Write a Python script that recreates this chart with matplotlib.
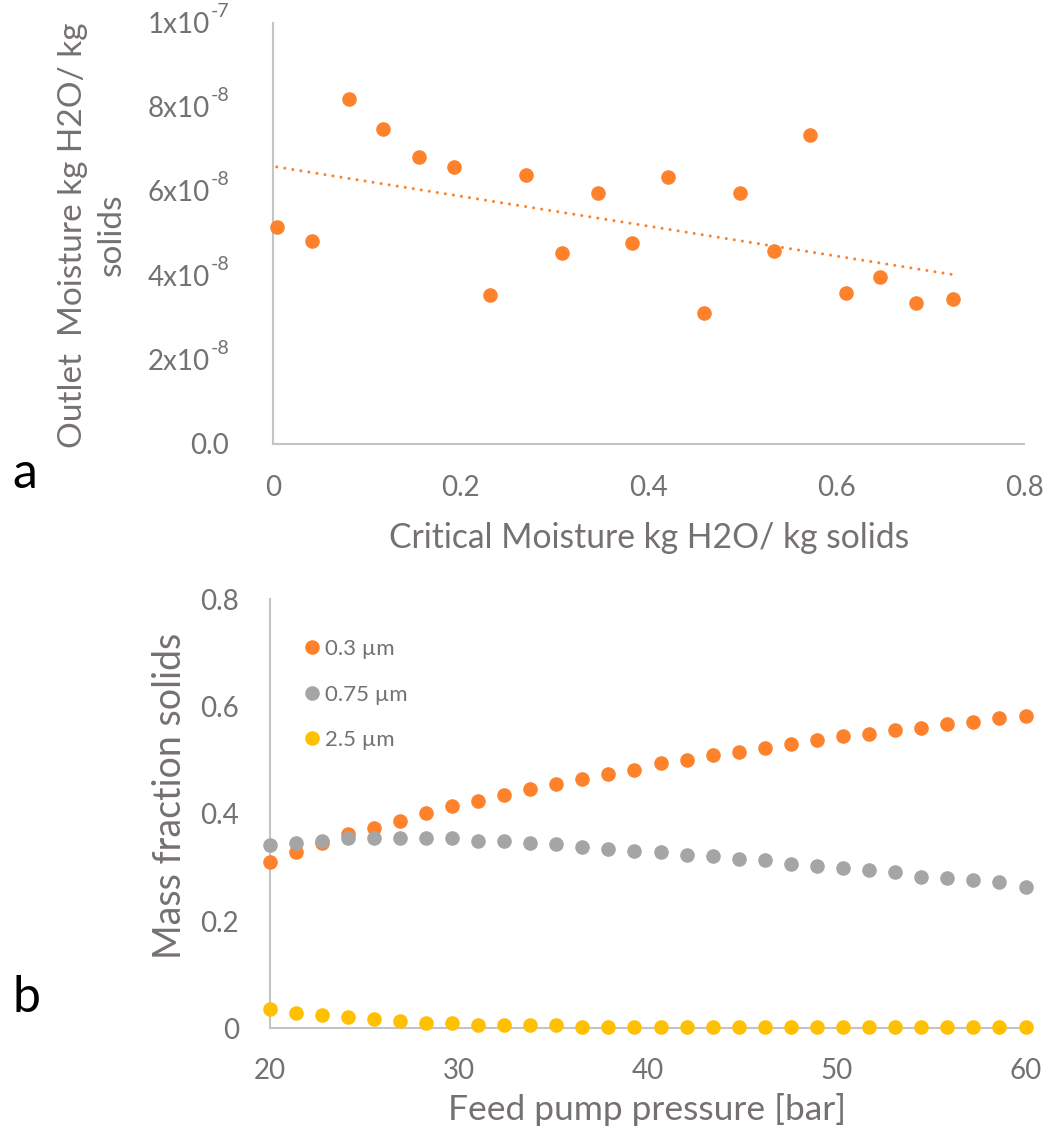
import matplotlib
matplotlib.use('Agg')
import matplotlib.pyplot as plt
import numpy as np

plt.rcParams['font.family'] = ['Lato', 'DejaVu Sans']
plt.rcParams['mathtext.fontset'] = 'custom'
plt.rcParams['mathtext.rm'] = 'Lato'

# ---------------- data (panel a) ----------------
critical_moisture = [0.004, 0.042, 0.081, 0.117, 0.155, 0.193, 0.231, 0.270, 0.308, 0.346,
                     0.382, 0.421, 0.459, 0.497, 0.534, 0.572, 0.610, 0.647, 0.685, 0.724]
outlet_moisture_e8 = [5.14, 4.82, 8.19, 7.48, 6.81, 6.57, 3.53, 6.38, 4.53, 5.96,
                      4.77, 6.34, 3.11, 5.96, 4.58, 7.33, 3.58, 3.96, 3.34, 3.44]
a_xticks = [0, 0.2, 0.4, 0.6, 0.8]
a_xticklabels = ['0', '0.2', '0.4', '0.6', '0.8']
a_yticks = [0, 2e-8, 4e-8, 6e-8, 8e-8, 1e-7]
a_ytick_base = ['0.0', '2x10', '4x10', '6x10', '8x10', '1x10']
a_ytick_exp = ['', '-8', '-8', '-8', '-8', '-7']

# ---------------- data (panel b) ----------------
pressure = [20.00, 21.38, 22.76, 24.14, 25.52, 26.90, 28.28, 29.66, 31.03, 32.41,
            33.79, 35.17, 36.55, 37.93, 39.31, 40.69, 42.07, 43.45, 44.83, 46.21,
            47.59, 48.97, 50.34, 51.72, 53.10, 54.48, 55.86, 57.24, 58.62, 60.00]
frac_03 = [0.311, 0.329, 0.346, 0.363, 0.373, 0.387, 0.402, 0.414, 0.424, 0.435,
           0.446, 0.456, 0.464, 0.475, 0.482, 0.494, 0.501, 0.509, 0.516, 0.523,
           0.530, 0.537, 0.545, 0.549, 0.556, 0.560, 0.568, 0.571, 0.579, 0.583]
frac_075 = [0.342, 0.346, 0.349, 0.354, 0.354, 0.354, 0.354, 0.354, 0.349, 0.350,
            0.346, 0.343, 0.338, 0.335, 0.331, 0.328, 0.324, 0.321, 0.316, 0.313,
            0.306, 0.302, 0.299, 0.295, 0.291, 0.283, 0.280, 0.276, 0.272, 0.264]
frac_25 = [0.036, 0.029, 0.025, 0.021, 0.017, 0.013, 0.010, 0.010, 0.007, 0.007,
           0.007, 0.007, 0.003, 0.003, 0.003, 0.003, 0.003, 0.003, 0.003, 0.003,
           0.003, 0.003, 0.003, 0.003, 0.003, 0.003, 0.003, 0.003, 0.003, 0.003]
series_labels = ['0.3 µm', '0.75 µm', '2.5 µm']
b_xticks = [20, 30, 40, 50, 60]
b_yticks = [0, 0.2, 0.4, 0.6, 0.8]
b_yticklabels = ['0', '0.2', '0.4', '0.6', '0.8']

ORANGE = '#FE822B'
GRAY = '#A5A5A5'
YELLOW = '#FFC000'
TXT = '#767171'
SPINE = '#C4C4C4'

W, H = 1050, 1137
fig = plt.figure(figsize=(W / 100, H / 100), dpi=100)

def fx(px):
    return px / W

def fy(py):
    return 1 - py / H

def style(ax, pad_x, pad_y, fs):
    for s in ['top', 'right']:
        ax.spines[s].set_visible(False)
    for s in ['left', 'bottom']:
        ax.spines[s].set_color(SPINE)
        ax.spines[s].set_linewidth(1.5)
    ax.tick_params(axis='both', length=0, colors=TXT, labelsize=fs)
    ax.tick_params(axis='x', pad=pad_x)
    ax.tick_params(axis='y', pad=pad_y)

# ---------------- panel a ----------------
ax1 = fig.add_axes([fx(273), fy(443.5), fx(1024 - 273), (443.5 - 22.5) / H])
yv = np.array(outlet_moisture_e8) * 1e-8
xv = np.array(critical_moisture)
ax1.plot(xv, yv, 'o', color=ORANGE, markersize=10.5, markeredgewidth=0, clip_on=False, zorder=3)
coef = np.polyfit(xv, yv, 1)
xt = np.array([xv.min(), xv.max()])
ax1.plot(xt, np.polyval(coef, xt), color=ORANGE, lw=2.2, linestyle=(0, (0.01, 2.65)),
         dash_capstyle='round', zorder=2)
ax1.set_xlim(0, 0.8)
ax1.set_ylim(0, 1e-7)
ax1.set_xticks(a_xticks)
ax1.set_xticklabels(a_xticklabels)
ax1.set_yticks(a_yticks)
ax1.set_yticklabels([])
style(ax1, 23, 32, 20)

# y tick labels with hyphen superscripts (drawn as text at tick positions)
from matplotlib.transforms import blended_transform_factory, offset_copy
ytr = blended_transform_factory(fig.transFigure, ax1.transData)
for val, base, ex in zip(a_yticks, a_ytick_base, a_ytick_exp):
    if ex:
        fig.text(fx(210), val, base, transform=ytr, color=TXT, fontsize=20,
                 ha='right', va='center_baseline')
        fig.text(fx(211), val, ex, transform=offset_copy(ytr, fig=fig, x=0, y=9, units='points'),
                 color=TXT, fontsize=14, ha='left', va='center_baseline')
    else:
        fig.text(fx(229), val, base, transform=ytr, color=TXT, fontsize=20,
                 ha='right', va='center_baseline')

fig.text(fx(649), fy(538), 'Critical Moisture kg H2O/ kg solids', color=TXT, fontsize=24.2,
         ha='center', va='center')
fig.text(fx(92.5), fy(235), 'Outlet  Moisture kg H2O/ kg\nsolids', color=TXT, fontsize=24,
         ha='center', va='center', rotation=90, linespacing=1.4, multialignment='center')
fig.text(fx(12), fy(474), 'a', color='black', fontsize=36, ha='left', va='center')

# ---------------- panel b ----------------
ax2 = fig.add_axes([fx(269.5), fy(1028.3), fx(1025.5 - 269.5), (1028.3 - 599.3) / H])
for vals, col, lab in zip([frac_03, frac_075, frac_25], [ORANGE, GRAY, YELLOW], series_labels):
    ax2.plot(pressure, vals, 'o', color=col, markersize=10.5, markeredgewidth=0,
             clip_on=False, zorder=3, label=lab)
ax2.set_xlim(20, 60)
ax2.set_ylim(0, 0.8)
ax2.set_xticks(b_xticks)
ax2.set_yticks(b_yticks)
ax2.set_yticklabels(b_yticklabels)
style(ax2, 21.5, 22, 20)

leg = ax2.legend(loc='upper left', bbox_to_anchor=(fx(306), fy(639)),
                 bbox_transform=fig.transFigure, frameon=False, fontsize=16,
                 handlelength=0.55, handletextpad=0.3, labelspacing=1.15,
                 borderpad=0, borderaxespad=0, markerscale=1.0)
for t in leg.get_texts():
    t.set_color(TXT)

fig.text(fx(647), fy(1110), 'Feed pump pressure [bar]', color=TXT, fontsize=25.5,
         ha='center', va='center')
fig.text(fx(170), fy(796), 'Mass fraction solids', color=TXT, fontsize=27,
         ha='center', va='center', rotation=90)
fig.text(fx(12), fy(998), 'b', color='black', fontsize=36, ha='left', va='center')

fig.savefig('out.png', dpi=100)
